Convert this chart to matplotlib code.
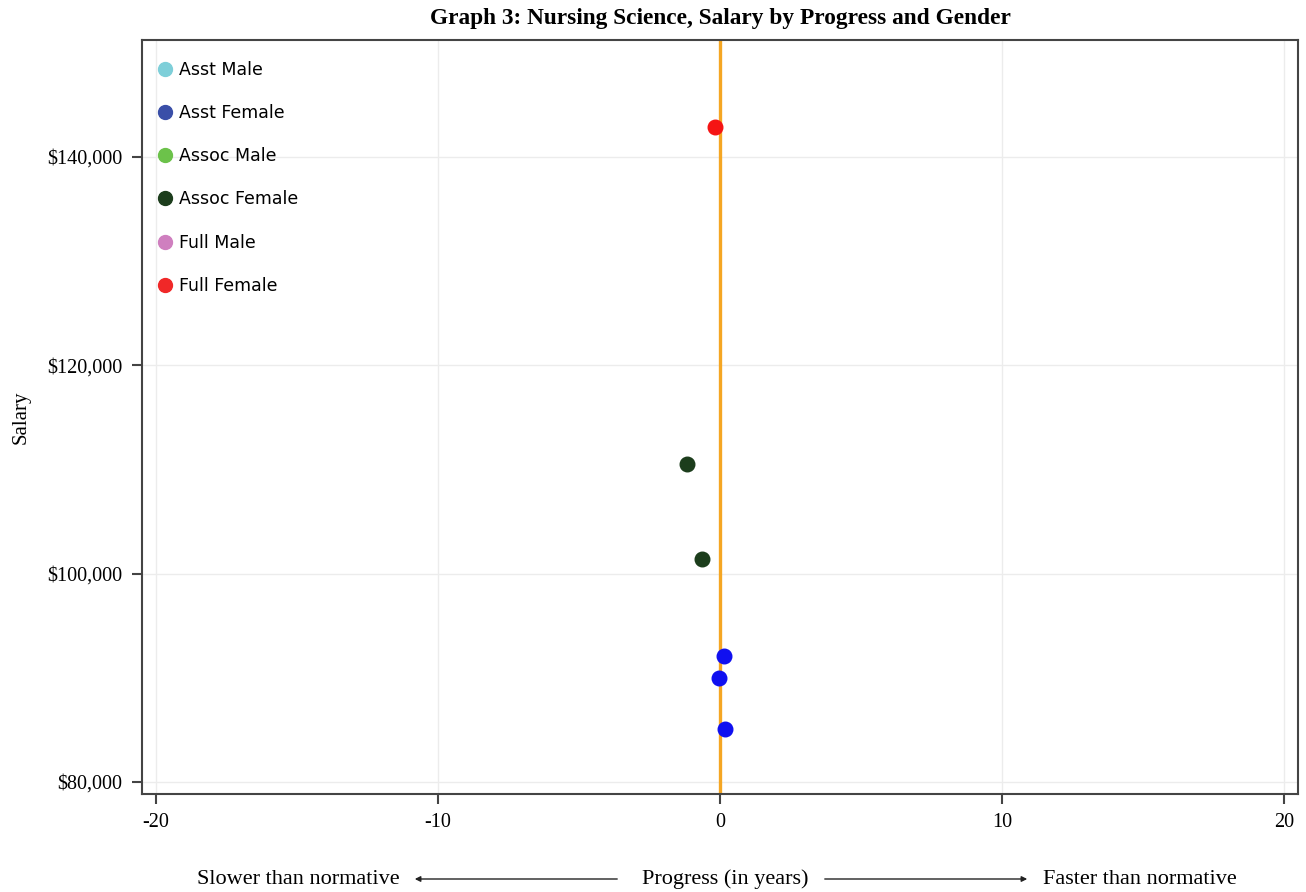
import matplotlib
matplotlib.use("Agg")
import matplotlib.pyplot as plt
from matplotlib.lines import Line2D
from matplotlib.ticker import FuncFormatter

plt.rcParams["axes.unicode_minus"] = False

# groups shown in the legend and their legend colours
groups = ["Asst Male", "Asst Female", "Assoc Male", "Assoc Female", "Full Male", "Full Female"]
legend_colors = ["#7ecfd9", "#3a4fa8", "#6cc24a", "#1c3d1c", "#cf7fbf", "#f02828"]

# plotted points: progress (years), salary, group colour
full_female_x = [-0.18]
full_female_y = [142900]
assoc_female_x = [-1.17, -0.65]
assoc_female_y = [110500, 101400]
asst_female_x = [0.15, -0.03, 0.18]
asst_female_y = [92100, 90000, 85100]

SERIF = "Liberation Serif"

fig = plt.figure(figsize=(13.06, 8.92), dpi=100)
ax = fig.add_axes([0.1087, 0.1099, 0.8852, 0.8453])

ax.axvline(0, color="#f5a623", linewidth=2.4, zorder=2)

ax.scatter(asst_female_x, asst_female_y, s=110, color="#1010f0", zorder=3)
ax.scatter(assoc_female_x, assoc_female_y, s=110, color="#1c3d1c", zorder=3)
ax.scatter(full_female_x, full_female_y, s=110, color="#f51414", zorder=3)

ax.set_xlim(-20.5, 20.5)
ax.set_ylim(78850, 151230)
ax.set_xticks([-20, -10, 0, 10, 20])
ax.set_yticks([80000, 100000, 120000, 140000])
ax.yaxis.set_major_formatter(FuncFormatter(lambda v, p: f"${v:,.0f}"))
ax.grid(True, color="#ececec", linewidth=1)
ax.set_axisbelow(True)

for sp in ax.spines.values():
    sp.set_color("#444444")
    sp.set_linewidth(1.5)
ax.tick_params(direction="out", length=7, width=1.5, color="#444444",
               labelsize=14.5, pad=7)
for lbl in ax.get_xticklabels() + ax.get_yticklabels():
    lbl.set_fontfamily(SERIF)

ax.set_ylabel("Salary", fontsize=15, family=SERIF, labelpad=12)
fig.text(0.552, 0.979, "Graph 3: Nursing Science, Salary by Progress and Gender",
         ha="center", va="center", fontsize=16.8, fontweight="bold", family=SERIF)

handles = [Line2D([], [], marker="o", linestyle="", markersize=10,
                  markerfacecolor=c, markeredgecolor=c, label=g)
           for g, c in zip(groups, legend_colors)]
ax.legend(handles=handles, loc="upper left", frameon=False, fontsize=12.5,
          handletextpad=-0.2, labelspacing=1.45, borderaxespad=0.2,
          bbox_to_anchor=(-0.004, 0.986))

# bottom annotation with arrows
fy = 1 - 879 / 892
fig.text(298 / 1306, fy, "Slower than normative", ha="center", va="center",
         fontsize=16, family=SERIF)
fig.text(725 / 1306, fy, "Progress (in years)", ha="center", va="center",
         fontsize=16, family=SERIF)
fig.text(1140 / 1306, fy, "Faster than normative", ha="center", va="center",
         fontsize=16, family=SERIF)
arrow = dict(arrowstyle="-|>", color="#222222", linewidth=1, mutation_scale=8)
ax.annotate("", xy=(412 / 1306, fy), xytext=(620 / 1306, fy),
            xycoords="figure fraction", textcoords="figure fraction", arrowprops=arrow)
ax.annotate("", xy=(1030 / 1306, fy), xytext=(822 / 1306, fy),
            xycoords="figure fraction", textcoords="figure fraction", arrowprops=arrow)

fig.savefig("out.png", dpi=100)
